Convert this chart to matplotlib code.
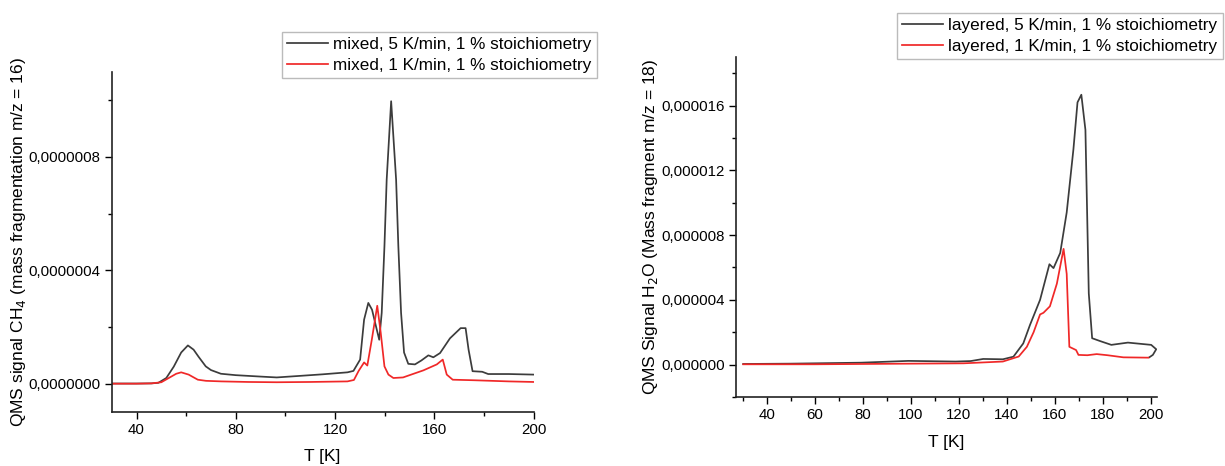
import matplotlib
matplotlib.use("Agg")
import matplotlib.pyplot as plt
from matplotlib.ticker import MultipleLocator, FuncFormatter

plt.rcParams['font.family'] = ['Liberation Sans', 'DejaVu Sans']

# ---- Left panel: CH4 (m/z = 16), mixed ----
mix5_T = [30, 40, 46, 48.8, 52, 55, 58, 60.7, 63, 65, 67.9, 70, 74, 80, 90, 96.5, 105, 115, 125,
          127.4, 130.1, 131.7, 133.4, 134.9, 136.5, 137.8, 138.8, 139.9, 140.8, 142.6, 144.6,
          145.5, 146.6, 147.8, 149.5, 152.2, 154.8, 157.6, 159.6, 162.3, 166.3, 170.6, 172.6,
          173.8, 175.4, 179.3, 181.7, 190, 200]
mix5_y = [0.005e-7, 0.005e-7, 0.01e-7, 0.03e-7, 0.2e-7, 0.6e-7, 1.1e-7, 1.35e-7, 1.2e-7, 0.95e-7,
          0.61e-7, 0.48e-7, 0.35e-7, 0.3e-7, 0.25e-7, 0.22e-7, 0.27e-7, 0.33e-7, 0.4e-7,
          0.45e-7, 0.85e-7, 2.26e-7, 2.85e-7, 2.61e-7, 2.02e-7, 1.55e-7, 2.5e-7, 4.85e-7, 7.2e-7,
          9.97e-7, 7.2e-7, 4.85e-7, 2.5e-7, 1.1e-7, 0.7e-7, 0.68e-7, 0.82e-7, 1.0e-7, 0.93e-7,
          1.08e-7, 1.6e-7, 1.96e-7, 1.96e-7, 1.2e-7, 0.44e-7, 0.42e-7, 0.34e-7, 0.34e-7, 0.32e-7]

mix1_T = [30, 40, 46, 50, 53, 56, 58, 61, 64.7, 68, 74.2, 85, 96.5, 110, 125, 127.6, 129.5, 131.7,
          133, 134.8, 137, 138.4, 139.9, 141.5, 143.5, 147.4, 151, 155.6, 161, 163.4, 165,
          167.4, 176.1, 190, 200]
mix1_y = [0.0, 0.0, 0.01e-7, 0.05e-7, 0.2e-7, 0.35e-7, 0.4e-7, 0.32e-7, 0.14e-7, 0.1e-7,
          0.08e-7, 0.06e-7, 0.05e-7, 0.06e-7, 0.08e-7, 0.13e-7, 0.45e-7, 0.75e-7, 0.64e-7,
          1.55e-7, 2.75e-7, 1.8e-7, 0.61e-7, 0.32e-7, 0.2e-7, 0.22e-7, 0.33e-7, 0.47e-7, 0.68e-7,
          0.85e-7, 0.32e-7, 0.14e-7, 0.12e-7, 0.08e-7, 0.06e-7]

# ---- Right panel: H2O (m/z = 18), layered ----
lay5_T = [30.2, 50, 79.3, 99, 118.7, 125, 130.2, 138.4, 142.8, 146.9, 149.7, 153.9, 157.8,
          159.5, 162.3, 165, 167.8, 169.5, 171.1, 172.8, 174.2, 175.6, 179, 183.6, 190.5, 200.2,
          202.3, 200.9, 199.5]
lay5_y = [0.04e-6, 0.06e-6, 0.12e-6, 0.23e-6, 0.19e-6, 0.22e-6, 0.35e-6, 0.33e-6, 0.49e-6,
          1.31e-6, 2.45e-6, 4.0e-6, 6.2e-6, 5.96e-6, 6.9e-6, 9.4e-6, 13.3e-6, 16.2e-6, 16.67e-6,
          14.5e-6, 4.4e-6, 1.63e-6, 1.45e-6, 1.22e-6, 1.36e-6, 1.22e-6, 0.95e-6, 0.6e-6, 0.46e-6]

lay1_T = [30.2, 60, 90, 122, 138.4, 145, 148.4, 151.2, 153.9, 155.3, 158, 160.9, 163.7, 165,
          166.1, 168.9, 169.9, 173.6, 177.5, 182, 188.6, 199]
lay1_y = [0.02e-6, 0.02e-6, 0.05e-6, 0.08e-6, 0.19e-6, 0.5e-6, 1.1e-6, 2.0e-6, 3.1e-6, 3.2e-6,
          3.6e-6, 5.0e-6, 7.15e-6, 5.6e-6, 1.1e-6, 0.9e-6, 0.6e-6, 0.58e-6, 0.65e-6, 0.58e-6,
          0.45e-6, 0.43e-6]

BLACK = '#3c3c3c'
RED = '#f02828'

W, H = 1225, 466
fig = plt.figure(figsize=(W / 100, H / 100), dpi=100)

def frac_axes(x0, y0, x1, y1):
    return fig.add_axes([x0 / W, 1 - y1 / H, (x1 - x0) / W, (y1 - y0) / H])

def comma_fmt(decimals):
    return FuncFormatter(lambda v, p: (f"{v:.{decimals}f}").replace('.', ','))

def style(ax):
    for s in ['top', 'right']:
        ax.spines[s].set_visible(False)
    for s in ['left', 'bottom']:
        ax.spines[s].set_linewidth(1.2)
        ax.spines[s].set_color('#222222')
    ax.tick_params(which='major', direction='out', length=5, width=1, labelsize=10.8, pad=3)
    ax.tick_params(which='minor', direction='out', length=3, width=1)

LEG = dict(loc='upper left', frameon=True, fancybox=False, edgecolor='#aaaaaa', fontsize=12.3,
           handlelength=2.4, handletextpad=0.3, borderpad=0.3, labelspacing=0.35,
           borderaxespad=0)

# Left
L = (111.7, 72, 533.6, 412)
ax1 = frac_axes(*L)
ax1.plot(mix5_T, mix5_y, color=BLACK, lw=1.25, label='mixed, 5 K/min, 1 % stoichiometry')
ax1.plot(mix1_T, mix1_y, color=RED, lw=1.25, label='mixed, 1 K/min, 1 % stoichiometry')
ax1.set_xlim(30, 200)
ax1.set_ylim(-1e-7, 1.1e-6)
ax1.xaxis.set_major_locator(MultipleLocator(40))
ax1.xaxis.set_minor_locator(MultipleLocator(20))
ax1.yaxis.set_major_locator(MultipleLocator(4e-7))
ax1.yaxis.set_minor_locator(MultipleLocator(2e-7))
ax1.yaxis.set_major_formatter(comma_fmt(7))
ax1.set_xlabel('T [K]', fontsize=12.5)
ax1.set_ylabel('QMS signal CH$_4$ (mass fragmentation m/z = 16)', fontsize=12.5)
ax1.yaxis.set_label_coords((18.3 - L[0]) / (L[2] - L[0]), 0.5)
ax1.xaxis.set_label_coords(0.5, -(457 - L[3]) / (L[3] - L[1]))
ax1.xaxis.label.set_va('center')
ax1.yaxis.label.set_va('center')
style(ax1)
fig.legend(handles=ax1.get_lines(), bbox_to_anchor=(282 / W, 1 - 32 / H), **LEG)

# Right
R = (736, 57, 1156.7, 397)
ax2 = frac_axes(*R)
ax2.plot(lay5_T, lay5_y, color=BLACK, lw=1.25, label='layered, 5 K/min, 1 % stoichiometry')
ax2.plot(lay1_T, lay1_y, color=RED, lw=1.25, label='layered, 1 K/min, 1 % stoichiometry')
ax2.set_xlim(27.2, 202.5)
ax2.set_ylim(-2e-6, 19e-6)
ax2.set_xticks([40, 60, 80, 100, 120, 140, 160, 180, 200])
ax2.xaxis.set_minor_locator(MultipleLocator(10))
ax2.yaxis.set_major_locator(MultipleLocator(4e-6))
ax2.yaxis.set_minor_locator(MultipleLocator(2e-6))
ax2.yaxis.set_major_formatter(comma_fmt(6))
ax2.set_xlabel('T [K]', fontsize=12.5)
ax2.set_ylabel('QMS Signal H$_2$O (Mass fragment m/z = 18)', fontsize=12.5)
ax2.yaxis.set_label_coords((650 - R[0]) / (R[2] - R[0]), 0.5)
ax2.xaxis.set_label_coords(0.5, -(442 - R[3]) / (R[3] - R[1]))
ax2.xaxis.label.set_va('center')
ax2.yaxis.label.set_va('center')
style(ax2)
fig.legend(handles=ax2.get_lines(), bbox_to_anchor=(897 / W, 1 - 13 / H), **LEG)

fig.savefig('out.png', dpi=100)
